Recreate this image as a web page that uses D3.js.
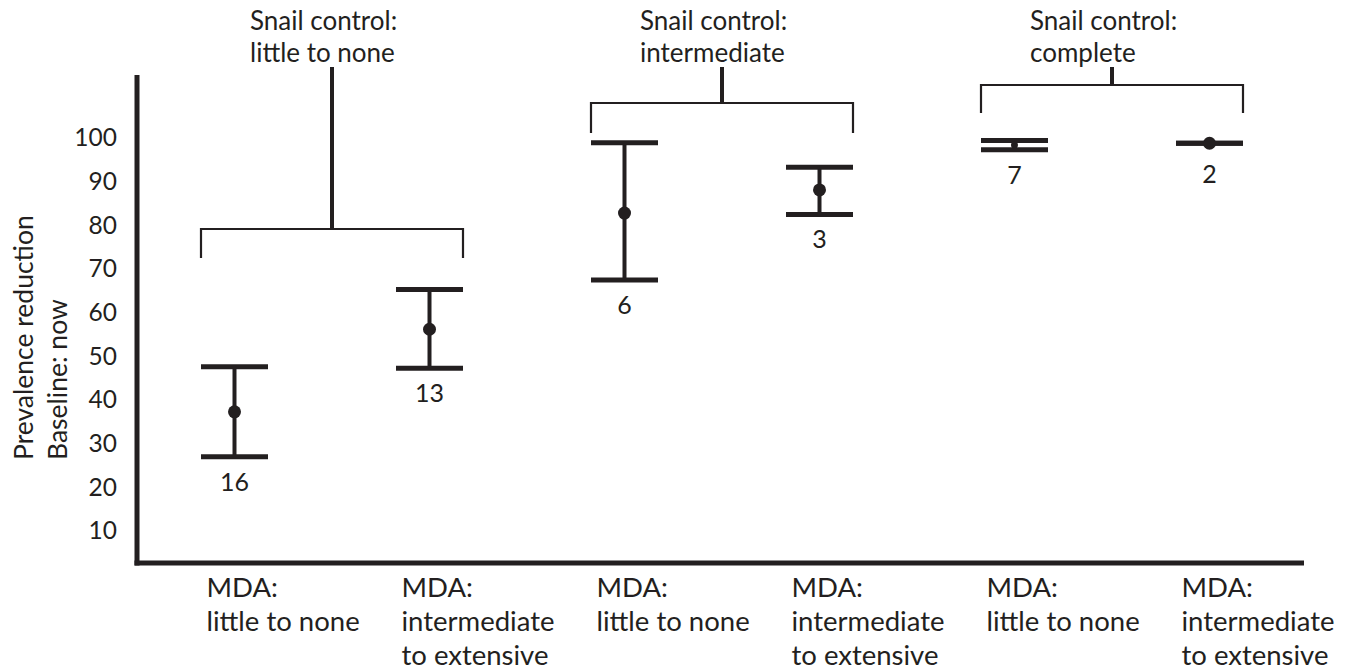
<!DOCTYPE html>
<html>
<head>
<meta charset="utf-8">
<script src="https://cdn.jsdelivr.net/npm/d3@7"></script>
<style>
  body { margin: 0; background: #fff; }
  text { font-family: Lato, "Open Sans", sans-serif; fill: #231f20; }
</style>
</head>
<body>
<svg id="chart" width="1347" height="672"></svg>
<script>
// Prevalence reduction by snail control / MDA coverage.
// Mean (dot) with range bars, number of studies under each bar.

const snailGroups = ["little to none", "intermediate", "complete"];
const mdaLevels = ["little to none", "intermediate to extensive"];
const categories = ["s1-m1", "s1-m2", "s2-m1", "s2-m2", "s3-m1", "s3-m2"];
const meanValues = [37.3, 56.2, 82.8, 88.1, 98.4, 98.8];
const lowerValues = [27.0, 47.3, 67.5, 82.5, 97.3, 98.8];
const upperValues = [47.6, 65.3, 98.9, 93.3, 99.4, 98.8];
const studyCounts = [16, 13, 6, 3, 7, 2];
const yTicks = [10, 20, 30, 40, 50, 60, 70, 80, 90, 100];
const mdaLabelLines = [["MDA:", "little to none"], ["MDA:", "intermediate", "to extensive"]];

// layout (pixels) for the group brackets, they sit at different heights
const bracketTop = 67;
const bracketBar = [229, 103, 85];
const bracketLeg = [258, 133, 113];

const ink = "#231f20";
const svg = d3.select("#chart");

const x = d3.scaleBand().domain(categories).range([137, 1307]);
const cx = i => x(categories[i]) + x.bandwidth() / 2;
const y = d3.scaleLinear().domain([0, 100]).range([574.7, 138]);
const capHalf = 33.5;

const rows = categories.map((c, i) => ({
  i, mean: meanValues[i], lo: lowerValues[i], hi: upperValues[i], n: studyCounts[i]
}));

// axes frame
svg.append("line").attr("x1", 137).attr("x2", 137).attr("y1", 75).attr("y2", 565.5)
  .attr("stroke", ink).attr("stroke-width", 5);
svg.append("line").attr("x1", 134.5).attr("x2", 1304).attr("y1", 563).attr("y2", 563)
  .attr("stroke", ink).attr("stroke-width", 5);

const yAxis = svg.append("g")
  .attr("transform", "translate(137,0)")
  .call(d3.axisLeft(y).tickValues(yTicks).tickSize(0).tickPadding(20));
yAxis.select(".domain").remove();
yAxis.selectAll("text").attr("font-size", 24.5).attr("font-family", null).attr("fill", ink);
yAxis.attr("font-family", null).attr("font-size", null);

// y title (two lines, rotated)
["Prevalence reduction", "Baseline: now"].forEach((t, k) => {
  svg.append("text")
    .attr("transform", `translate(${33 + k * 34},460) rotate(-90)`)
    .attr("font-size", 26.5)
    .text(t);
});

// brackets
snailGroups.forEach((g, k) => {
  const xl = cx(2 * k) - capHalf, xr = cx(2 * k + 1) + capHalf;
  const xm = (cx(2 * k) + cx(2 * k + 1)) / 2;
  svg.append("path")
    .attr("d", `M${xl},${bracketLeg[k]}V${bracketBar[k]}H${xr}V${bracketLeg[k]}`)
    .attr("fill", "none").attr("stroke", ink).attr("stroke-width", 2.2);
  svg.append("line").attr("x1", xm).attr("x2", xm).attr("y1", bracketTop).attr("y2", bracketBar[k])
    .attr("stroke", ink).attr("stroke-width", 4);
  const title = svg.append("text").attr("x", xm - 82).attr("font-size", 26);
  title.append("tspan").attr("x", xm - 82).attr("y", 30).text("Snail control:");
  title.append("tspan").attr("x", xm - 82).attr("y", 62).text(g);
});

// error bars
const bars = svg.append("g").selectAll("g").data(rows).join("g");
bars.append("line")
  .attr("x1", d => cx(d.i)).attr("x2", d => cx(d.i))
  .attr("y1", d => y(d.hi)).attr("y2", d => y(d.lo))
  .attr("stroke", ink).attr("stroke-width", 4);
bars.selectAll(".cap").data(d => [d.hi, d.lo].map(v => ({ i: d.i, v }))).join("line")
  .attr("class", "cap")
  .attr("x1", d => cx(d.i) - capHalf).attr("x2", d => cx(d.i) + capHalf)
  .attr("y1", d => y(d.v)).attr("y2", d => y(d.v))
  .attr("stroke", ink).attr("stroke-width", 5);
bars.append("circle")
  .attr("cx", d => cx(d.i)).attr("cy", d => y(d.mean))
  .attr("r", d => d.hi - d.lo < 3 && d.hi !== d.lo ? 3.5 : 6.5)
  .attr("fill", ink);
bars.append("text")
  .attr("x", d => cx(d.i))
  .attr("y", d => Math.max(y(d.lo) + 34, 183))
  .attr("text-anchor", "middle")
  .attr("font-size", 25)
  .text(d => d.n);

// MDA labels under the axis
rows.forEach(d => {
  const lines = mdaLabelLines[d.i % 2];
  const t = svg.append("text").attr("font-size", 27.5);
  lines.forEach((s, k) => {
    t.append("tspan").attr("x", cx(d.i) - 28).attr("y", 597 + k * 34).text(s);
  });
});
</script>
</body>
</html>
